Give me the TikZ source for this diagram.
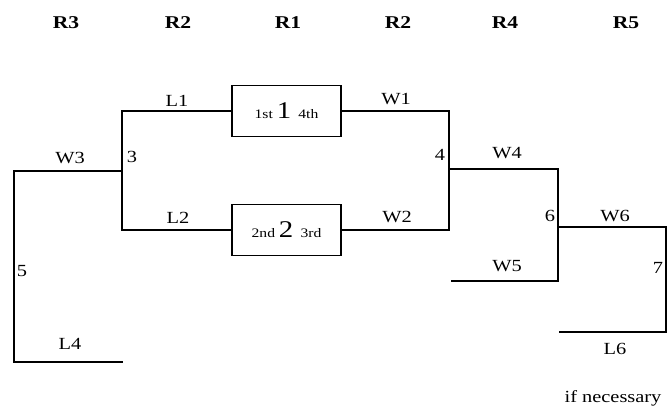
\documentclass[tikz,border=0pt]{standalone}
\usepackage{fontspec}
\setmainfont{Liberation Serif}[FakeStretch=1.2]
\begin{document}
\begin{tikzpicture}[x=1pt,y=-1pt,
  line/.style={line width=1.4pt},
  lab/.style={font=\fontsize{17}{17}\selectfont, inner sep=0pt},
  hdr/.style={font=\fontsize{18}{18}\selectfont\bfseries, inner sep=0pt},
  seed/.style={draw, line width=1.4pt, minimum width=109pt, minimum height=51pt, inner sep=0pt}]
\useasboundingbox (0,0) rectangle (668,415);
% headers
\node[hdr] (h1) at (66,23) {R3};
\node[hdr] (h2) at (178,23) {R2};
\node[hdr] (h3) at (288,23) {R1};
\node[hdr] (h4) at (398,23) {R2};
\node[hdr] (h5) at (505,23) {R4};
\node[hdr] (h6) at (626,23) {R5};
% seed boxes
\node[seed] (b1) at (286.5,111) {\fontsize{13}{13}\selectfont 1st \fontsize{24}{24}\selectfont 1 \fontsize{13}{13}\selectfont 4th};
\node[seed] (b2) at (286.5,230) {\fontsize{13}{13}\selectfont 2nd \fontsize{24}{24}\selectfont 2 \fontsize{13}{13}\selectfont 3rd};
% coordinates
\coordinate (c3t) at (122,111);
\coordinate (c3b) at (122,230);
\coordinate (c3m) at (122,171);
\coordinate (c5t) at (14,171);
\coordinate (c5b) at (14,362);
\coordinate (l4e) at (123,362);
\coordinate (c4t) at (449,111);
\coordinate (c4b) at (449,230);
\coordinate (c4m) at (449,169);
\coordinate (c6t) at (558,169);
\coordinate (c6b) at (558,281);
\coordinate (c6m) at (558,227);
\coordinate (w5s) at (451,281);
\coordinate (c7t) at (666,227);
\coordinate (c7b) at (666,332);
\coordinate (l6s) at (559,332);
% lines
\draw[line] (b1.west) -- (c3t) -- (c3b) -- (b2.west);
\draw[line] (c3m) -- (c5t) -- (c5b) -- (l4e);
\draw[line] (b1.east) -- (c4t) -- (c4b) -- (b2.east);
\draw[line] (c4m) -- (c6t) -- (c6b) -- (w5s);
\draw[line] (c6m) -- (c7t) -- (c7b) -- (l6s);
% labels
\node[lab] (tL1) at (177,101) {L1};
\node[lab] (tL2) at (178,218) {L2};
\node[lab] (tW3) at (70,158) {W3};
\node[lab] (t3) at (132,157) {3};
\node[lab] (t5) at (22,271) {5};
\node[lab] (tL4) at (70,344) {L4};
\node[lab] (tW1) at (396,99) {W1};
\node[lab] (tW2) at (397,217) {W2};
\node[lab] (t4) at (440,155) {4};
\node[lab] (tW4) at (507,153) {W4};
\node[lab] (t6) at (550,216) {6};
\node[lab] (tW5) at (507,266) {W5};
\node[lab] (tW6) at (615,216) {W6};
\node[lab] (t7) at (658,268) {7};
\node[lab] (tL6) at (615,349) {L6};
\node[lab] (tif) at (613,398) {if necessary};
\end{tikzpicture}
\end{document}
